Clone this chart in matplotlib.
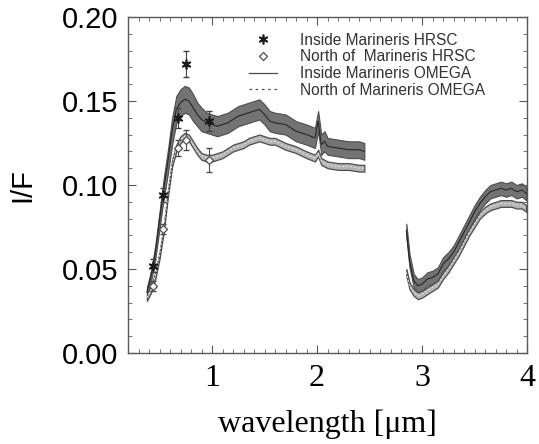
"""I/F spectra of Valles Marineris: HRSC band points and OMEGA spectra."""

import matplotlib.pyplot as plt
import numpy as np
from matplotlib.lines import Line2D
from matplotlib.ticker import MultipleLocator, FormatStrFormatter

# HRSC band reflectances [um, I/F]
hrsc_wl = [0.44, 0.53, 0.675, 0.75, 0.97]
hrsc_inside = [0.052, 0.094, 0.140, 0.172, 0.138]
hrsc_inside_err = [0.004, 0.004, 0.006, 0.008, 0.006]
hrsc_north = [0.040, 0.074, 0.122, 0.127, 0.115]
hrsc_north_err = [0.003, 0.003, 0.005, 0.006, 0.007]

# OMEGA visible / near-IR segment
omega_wl_1 = [0.38, 0.42, 0.46, 0.50, 0.54, 0.58, 0.62, 0.66, 0.70, 0.74,
              0.78, 0.82, 0.86, 0.90, 0.95, 1.00, 1.05, 1.10, 1.15, 1.20,
              1.25, 1.30, 1.35, 1.40, 1.45, 1.50, 1.55, 1.60, 1.70, 1.80,
              1.90, 1.98, 2.01, 2.04, 2.07, 2.10, 2.20, 2.30, 2.40, 2.45]
omega_inside_1 = [0.036, 0.046, 0.060, 0.079, 0.098, 0.114, 0.132, 0.145, 0.149, 0.151,
                  0.150, 0.146, 0.142, 0.139, 0.137, 0.136, 0.135, 0.136, 0.137, 0.139,
                  0.141, 0.142, 0.143, 0.144, 0.145, 0.142, 0.138, 0.137, 0.136, 0.132,
                  0.130, 0.128, 0.138, 0.124, 0.126, 0.123, 0.122, 0.121, 0.121, 0.120]
omega_inside_err_1 = [0.003, 0.003, 0.004, 0.005, 0.006, 0.007, 0.008, 0.008, 0.008, 0.008,
                      0.008, 0.008, 0.007, 0.007, 0.006, 0.006, 0.006, 0.006, 0.006, 0.006,
                      0.006, 0.006, 0.006, 0.006, 0.006, 0.006, 0.006, 0.006, 0.006, 0.006,
                      0.006, 0.006, 0.006, 0.006, 0.006, 0.005, 0.005, 0.005, 0.005, 0.005]
omega_north_1 = [0.033, 0.038, 0.046, 0.058, 0.074, 0.095, 0.113, 0.122, 0.127, 0.129,
                 0.128, 0.124, 0.120, 0.117, 0.116, 0.116, 0.117, 0.118, 0.120, 0.122,
                 0.123, 0.124, 0.126, 0.127, 0.128, 0.127, 0.126, 0.126, 0.123, 0.121,
                 0.118, 0.116, 0.119, 0.114, 0.113, 0.112, 0.111, 0.111, 0.110, 0.110]

# OMEGA L-channel segment
omega_wl_2 = [2.85, 2.88, 2.92, 2.96, 3.00, 3.05, 3.10, 3.15, 3.20, 3.25,
              3.30, 3.35, 3.40, 3.45, 3.50, 3.55, 3.60, 3.65, 3.70, 3.75,
              3.80, 3.85, 3.90, 3.95, 3.99]
omega_inside_2 = [0.073, 0.055, 0.043, 0.040, 0.041, 0.044, 0.045, 0.047, 0.053, 0.056,
                  0.060, 0.066, 0.072, 0.078, 0.084, 0.089, 0.093, 0.096, 0.097, 0.098,
                  0.097, 0.098, 0.096, 0.097, 0.095]
omega_north_2 = [0.048, 0.040, 0.036, 0.034, 0.035, 0.037, 0.039, 0.041, 0.046, 0.050,
                 0.055, 0.060, 0.066, 0.072, 0.077, 0.082, 0.085, 0.087, 0.088, 0.089,
                 0.089, 0.089, 0.088, 0.088, 0.086]
inside_err_2 = 0.004
north_err = 0.002

fig = plt.figure(figsize=(5.39, 4.44), dpi=100)
ax = fig.add_axes([0.2375, 0.205, 0.7405, 0.7567])

for wl, ins, ins_err, nor in [
        (omega_wl_1, omega_inside_1, omega_inside_err_1, omega_north_1),
        (omega_wl_2, omega_inside_2, inside_err_2, omega_north_2)]:
    wl = np.array(wl)
    ins = np.array(ins)
    nor = np.array(nor)
    ax.fill_between(wl, ins - ins_err, ins + ins_err, facecolor='0.45',
                    edgecolor='0.3', linewidth=0.8)
    ax.plot(wl, ins, color='0.15', lw=0.8)
    ax.fill_between(wl, nor - north_err, nor + north_err, facecolor='0.7',
                    edgecolor='0.3', linewidth=0.9)
    ax.plot(wl, nor, color='0.9', lw=0.7, ls=(0, (2, 2)))

ax.errorbar(hrsc_wl, hrsc_inside, yerr=hrsc_inside_err, fmt='none',
            ecolor='0.25', elinewidth=0.8, capsize=2)
ax.plot(hrsc_wl, hrsc_inside, ls='none', marker=(6, 2, 0), ms=7,
        mec='0.1', mew=1.2)
ax.plot(hrsc_wl, hrsc_inside, ls='none', marker='s', ms=3, color='0.1')
ax.errorbar(hrsc_wl, hrsc_north, yerr=hrsc_north_err, fmt='none',
            ecolor='0.3', elinewidth=0.8, capsize=2)
ax.plot(hrsc_wl, hrsc_north, ls='none', marker='D', ms=4.5, mfc='white',
        mec='0.3', mew=0.9)

ax.set_xlim(0.2, 4.0)
ax.set_ylim(0.0, 0.2)
ax.xaxis.set_major_locator(MultipleLocator(1))
ax.xaxis.set_minor_locator(MultipleLocator(0.1))
ax.yaxis.set_major_locator(MultipleLocator(0.05))
ax.yaxis.set_minor_locator(MultipleLocator(0.01))
ax.yaxis.set_major_formatter(FormatStrFormatter('%.2f'))
ax.tick_params(which='both', direction='in', top=True, right=True, color='0.35')
ax.tick_params(which='major', length=6, width=0.8)
ax.tick_params(which='minor', length=3, width=0.6)
for s in ax.spines.values():
    s.set_color('0.35')
    s.set_linewidth(1.0)

for lab in ax.get_yticklabels():
    lab.set_family('Liberation Sans')
    lab.set_fontsize(21)
for lab in ax.get_xticklabels():
    lab.set_family('Liberation Serif')
    lab.set_fontsize(23)
ax.tick_params(axis='x', pad=8)
ax.tick_params(axis='y', pad=7)

ax.set_ylabel('I/F', family='Liberation Sans', fontsize=21, labelpad=18)
ax.set_xlabel('wavelength [\u03bcm]', family='Liberation Serif', fontsize=23,
              labelpad=12)

handles = [
    Line2D([], [], ls='none', marker=(6, 2, 0), ms=7, mec='0.1', mew=1.2),
    Line2D([], [], ls='none', marker='D', ms=4.5, mfc='white', mec='0.3', mew=0.9),
    Line2D([], [], color='0.3', lw=0.9),
    Line2D([], [], color='0.3', lw=0.9, ls=(0, (2, 3))),
]
labels = ['Inside Marineris HRSC', 'North of  Marineris HRSC',
          'Inside Marineris OMEGA', 'North of Marineris OMEGA']
leg = ax.legend(handles, labels, loc='upper left', bbox_to_anchor=(0.295, 0.962),
                frameon=False, prop={'family': 'Liberation Sans', 'size': 11.2},
                handlelength=1.8, handletextpad=1.5, labelspacing=0.1,
                borderaxespad=0.0, borderpad=0.2)
for t in leg.get_texts():
    t.set_color('0.2')

fig.savefig('out.png', dpi=100)
